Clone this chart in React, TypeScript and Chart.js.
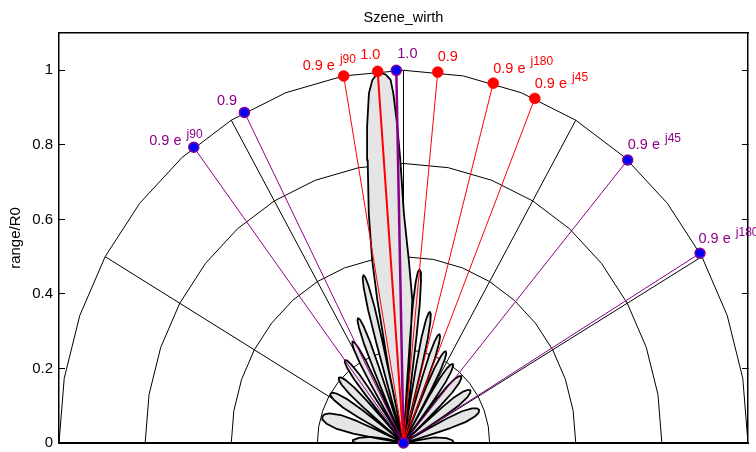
import React, { useEffect, useRef } from 'react';
import { Chart, registerables } from 'chart.js';

Chart.register(...registerables);

// ---------- data ----------
const titleText = 'Szene_wirth';
const yAxisTitle = 'range/R0';
const yTickValues = [0, 0.2, 0.4, 0.6, 0.8, 1];
const gridRadii = [0.25, 0.5, 0.75, 1];
const gridSpokeDeg = [-60, -30, 0, 30, 60];

// red steering markers (angle in degrees from boresight, range/R0)
const redDeg = [-10, -4.3, 5.7, 15.1, 22.4];
const redR = [1, 1, 1, 1, 1];
const redLabelBase = ['0.9 e', '1.0', '0.9', '0.9 e', '0.9 e'];
const redLabelSup = ['j90', '', '', 'j180', 'j45'];

// purple / blue markers
const purpleDeg = [-37.5, -27.5, -1.2, 40.6, 59.4];
const purpleR = [1, 1, 1, 1, 1];
const purpleLabelBase = ['0.9 e', '0.9', '1.0', '0.9 e', '0.9 e'];
const purpleLabelSup = ['j90', '', '', 'j45', 'j180'];

// range pattern, polar samples [deg, range/R0], lobes separated by the origin
const patternPolar: [number, number][] = [
  [-90, 0],
  [-89.8, 0.04], [-89.8, 0.09], [-89.8, 0.135], [-89, 0.148], [-87, 0.147], [-84, 0.13], [-80, 0.095], [-77, 0.05],
  [-80, 0],
  [-80.9, 0.074], [-80.14, 0.148], [-79, 0.197], [-76.98, 0.229], [-75.15, 0.242], [-73.3, 0.246], [-71.45, 0.242], [-69.62, 0.229], [-67.6, 0.197], [-66.46, 0.148], [-65.7, 0.074],
  [-63, 0],
  [-62.81, 0.075], [-62.32, 0.15], [-61.58, 0.2], [-60.27, 0.2325], [-59.1, 0.246], [-57.9, 0.25], [-56.7, 0.246], [-55.53, 0.2325], [-54.22, 0.2], [-53.48, 0.15], [-52.99, 0.075],
  [-52, 0],
  [-51.06, 0.077], [-50.64, 0.154], [-50.02, 0.206], [-48.91, 0.239], [-47.91, 0.253], [-46.9, 0.257], [-45.89, 0.253], [-44.89, 0.239], [-43.78, 0.206], [-43.16, 0.154], [-42.74, 0.077],
  [-42, 0],
  [-40.84, 0.084], [-40.5, 0.168], [-39.98, 0.224], [-39.06, 0.26], [-38.24, 0.276], [-37.4, 0.28], [-36.56, 0.276], [-35.74, 0.26], [-34.82, 0.224], [-34.3, 0.168], [-33.96, 0.084],
  [-33, 0],
  [-31.33, 0.093], [-31.04, 0.186], [-30.62, 0.248], [-29.87, 0.288], [-29.19, 0.305], [-28.5, 0.31], [-27.81, 0.305], [-27.13, 0.288], [-26.38, 0.248], [-25.96, 0.186], [-25.67, 0.093],
  [-25, 0],
  [-23.95, 0.108], [-23.7, 0.216], [-23.33, 0.288], [-22.68, 0.335], [-22.1, 0.355], [-21.5, 0.36], [-20.9, 0.355], [-20.32, 0.335], [-19.67, 0.288], [-19.3, 0.216], [-19.05, 0.108],
  [-18, 0],
  [-16.57, 0.14], [-16.36, 0.279], [-16.05, 0.372], [-15.5, 0.432], [-15, 0.458], [-14.5, 0.465], [-14, 0.458], [-13.5, 0.432], [-12.95, 0.372], [-12.64, 0.279], [-12.43, 0.14],
  [-12, 0],
  [-12.3, 0.2], [-11.2, 0.391], [-10.5, 0.499], [-9.3, 0.624], [-7.8, 0.766], [-7.1, 0.855], [-6.1, 0.944], [-5.3, 0.978], [-4.6, 0.99],
  [-3.8, 0.995], [-3, 0.99], [-2.2, 0.975], [-1.8, 0.938], [-1.2, 0.849], [-0.7, 0.759], [0.1, 0.616], [1.8, 0.491], [3.8, 0.385], [4.8, 0.2],
  [4, 0],
  [3.65, 0.14], [3.85, 0.281], [4.16, 0.374], [4.71, 0.435], [5.2, 0.461], [5.7, 0.468], [6.2, 0.461], [6.69, 0.435], [7.24, 0.374], [7.55, 0.281], [7.75, 0.14],
  [9, 0],
  [9.85, 0.108], [10.1, 0.216], [10.47, 0.288], [11.12, 0.335], [11.7, 0.355], [12.3, 0.36], [12.9, 0.355], [13.48, 0.335], [14.13, 0.288], [14.5, 0.216], [14.75, 0.108],
  [16, 0],
  [16.87, 0.093], [17.16, 0.186], [17.58, 0.248], [18.33, 0.288], [19.01, 0.305], [19.7, 0.31], [20.39, 0.305], [21.07, 0.288], [21.82, 0.248], [22.24, 0.186], [22.53, 0.093],
  [23, 0],
  [23.3, 0.083], [23.62, 0.165], [24.1, 0.22], [24.95, 0.256], [25.72, 0.271], [26.5, 0.275], [27.28, 0.271], [28.05, 0.256], [28.9, 0.22], [29.38, 0.165], [29.7, 0.083],
  [30, 0],
  [30.24, 0.077], [30.62, 0.153], [31.18, 0.204], [32.18, 0.237], [33.08, 0.251], [34, 0.255], [34.92, 0.251], [35.82, 0.237], [36.82, 0.204], [37.38, 0.153], [37.76, 0.077],
  [38, 0],
  [38.65, 0.074], [39.09, 0.147], [39.74, 0.196], [40.9, 0.228], [41.94, 0.241], [43, 0.245], [44.06, 0.241], [45.1, 0.228], [46.26, 0.196], [46.91, 0.147], [47.35, 0.074],
  [48, 0],
  [48.87, 0.072], [49.4, 0.144], [50.16, 0.192], [51.52, 0.223], [52.75, 0.236], [54, 0.24], [55.25, 0.236], [56.48, 0.223], [57.84, 0.192], [58.6, 0.144], [59.13, 0.072],
  [60, 0],
  [61.81, 0.071], [62.43, 0.142], [63.36, 0.19], [65.01, 0.22], [66.49, 0.233], [68, 0.237], [69.51, 0.233], [70.99, 0.22], [72.64, 0.19], [73.57, 0.142], [74.19, 0.071],
  [78, 0],
  [80, 0.045], [80.5, 0.09], [84, 0.125], [87, 0.142], [89, 0.145], [89.8, 0.14], [89.8, 0.09], [89.8, 0.04],
  [90, 0],
];

// ---------- styles ----------
const RED = '#ff0000';
const PURPLE = '#8b008b';
const BLUE = '#0000ff';
const FONT = '"Liberation Sans", Arial, Helvetica, sans-serif';
const redLineWidths = [1, 2, 1, 1, 1];
const purpleLineWidths = [1, 1, 2.5, 1, 1];
const redLabelOffsets: [number, number][] = [[-41, -5.5], [-17.5, -12.7], [0, -11.6], [0, -10.3], [0, -10.3]];
const purpleLabelOffsets: [number, number][] = [[-44.5, -1.8], [-27.5, -7.7], [1, -12.7], [0, -10.7], [-1.5, -10]];

const toXY = (deg: number, r: number) => {
  const a = (deg * Math.PI) / 180;
  return { x: r * Math.sin(a), y: r * Math.cos(a) };
};

const labelPlugin = {
  id: 'polarLabels',
  afterDatasetsDraw(chart: any) {
    const { ctx, chartArea } = chart;
    const xs = chart.scales.x;
    const ys = chart.scales.y;
    const draw = (deg: number, r: number, base: string, sup: string, off: [number, number], color: string) => {
      const p = toXY(deg, r);
      const px = xs.getPixelForValue(p.x);
      const py = ys.getPixelForValue(p.y);
      ctx.save();
      ctx.fillStyle = color;
      ctx.textAlign = 'left';
      ctx.textBaseline = 'alphabetic';
      ctx.font = `14.5px ${FONT}`;
      const bx = px + off[0];
      const by = py + off[1];
      ctx.fillText(base, bx, by);
      if (sup) {
        const w = ctx.measureText(base + ' ').width;
        ctx.font = `12px ${FONT}`;
        ctx.fillText(sup, bx + w + 1, by - 7.5);
      }
      ctx.restore();
    };
    redDeg.forEach((d, i) => draw(d, redR[i], redLabelBase[i], redLabelSup[i], redLabelOffsets[i], RED));
    purpleDeg.forEach((d, i) => draw(d, purpleR[i], purpleLabelBase[i], purpleLabelSup[i], purpleLabelOffsets[i], PURPLE));

    ctx.save();
    ctx.fillStyle = '#000';
    ctx.textAlign = 'center';
    ctx.textBaseline = 'alphabetic';
    ctx.font = `14.5px ${FONT}`;
    ctx.fillText(titleText, (chartArea.left + chartArea.right) / 2, 21.5);
    ctx.restore();
  },
};

export default function App() {
  const canvasRef = useRef<HTMLCanvasElement | null>(null);

  useEffect(() => {
    const canvas = canvasRef.current;
    if (!canvas) return;

    const datasets: any[] = [];

    // origin marker (top)
    datasets.push({
      data: [{ x: 0, y: 0 }],
      pointRadius: 5,
      pointBorderWidth: 1.5,
      pointBackgroundColor: BLUE,
      pointBorderColor: PURPLE,
      showLine: false,
      clip: false,
      order: 0,
    });

    // markers
    datasets.push({
      data: redDeg.map((d, i) => toXY(d, redR[i])),
      pointRadius: 5.5,
      pointBorderWidth: 0.5,
      pointBackgroundColor: RED,
      pointBorderColor: RED,
      showLine: false,
      order: 1,
    });
    datasets.push({
      data: purpleDeg.map((d, i) => toXY(d, purpleR[i])),
      pointRadius: 5,
      pointBorderWidth: 1.5,
      pointBackgroundColor: BLUE,
      pointBorderColor: PURPLE,
      showLine: false,
      order: 1,
    });

    // rays
    redDeg.forEach((d, i) => {
      datasets.push({
        data: [{ x: 0, y: 0 }, toXY(d, redR[i])],
        showLine: true,
        borderColor: RED,
        borderWidth: redLineWidths[i],
        pointRadius: 0,
        order: 2,
      });
    });
    purpleDeg.forEach((d, i) => {
      datasets.push({
        data: [{ x: 0, y: 0 }, toXY(d, purpleR[i])],
        showLine: true,
        borderColor: PURPLE,
        borderWidth: purpleLineWidths[i],
        pointRadius: 0,
        order: 2,
      });
    });

    // pattern
    datasets.push({
      data: patternPolar.map(([d, r]) => toXY(d, r)),
      showLine: true,
      borderColor: '#000',
      borderWidth: 1.8,
      backgroundColor: '#e5e5e5',
      fill: 'shape',
      pointRadius: 0,
      tension: 0,
      borderJoinStyle: 'round',
      order: 5,
    });

    // polar grid: circles and spokes
    gridRadii.forEach((r) => {
      const pts = [] as { x: number; y: number }[];
      for (let a = -90; a <= 90; a += 10) pts.push(toXY(a, r));
      datasets.push({
        data: pts,
        showLine: true,
        borderColor: '#000',
        borderWidth: 1,
        pointRadius: 0,
        order: 10,
      });
    });
    gridSpokeDeg.forEach((d) => {
      datasets.push({
        data: [{ x: 0, y: 0 }, toXY(d, 1)],
        showLine: true,
        borderColor: '#000',
        borderWidth: 1,
        pointRadius: 0,
        order: 10,
      });
    });

    const fixTicks = (s: any) => {
      s.ticks = yTickValues.map((v) => ({ value: v }));
    };

    const chart = new Chart(canvas, {
      type: 'scatter',
      data: { datasets },
      options: {
        responsive: false,
        animation: false,
        events: [],
        layout: { padding: { top: 33, left: 0, right: 0, bottom: 0 } },
        plugins: {
          legend: { display: false },
          tooltip: { enabled: false },
          title: { display: false },
        },
        scales: {
          x: {
            type: 'linear',
            min: -1,
            max: 1,
            position: 'bottom',
            ticks: { display: false },
            grid: { display: false },
            border: { display: true, color: '#000', width: 2 },
            afterFit: (s: any) => {
              s.height = 9;
              s.paddingLeft = 0;
              s.paddingRight = 0;
            },
          },
          xTop: {
            type: 'linear',
            min: -1,
            max: 1,
            position: 'top',
            ticks: { display: false },
            grid: { display: false },
            border: { display: true, color: '#000', width: 1.5 },
            afterFit: (s: any) => {
              s.height = 0;
              s.paddingLeft = 0;
              s.paddingRight = 0;
            },
          },
          y: {
            type: 'linear',
            min: 0,
            max: 1.1,
            position: 'left',
            afterBuildTicks: fixTicks,
            ticks: {
              color: '#000',
              font: { family: FONT, size: 15 },
              padding: 12,
              callback: (v: any) => String(v),
            },
            grid: { drawOnChartArea: false, drawTicks: true, tickLength: -6, color: '#000', tickWidth: 1 },
            border: { display: true, color: '#000', width: 1.5 },
            title: {
              display: true,
              text: yAxisTitle,
              color: '#000',
              font: { family: FONT, size: 15 },
              padding: { top: 7, bottom: 0 },
            },
            afterFit: (s: any) => {
              s.width = 59;
              s.paddingTop = 0;
              s.paddingBottom = 0;
            },
          },
          yRight: {
            type: 'linear',
            min: 0,
            max: 1.1,
            position: 'right',
            afterBuildTicks: fixTicks,
            ticks: { display: false },
            grid: { drawOnChartArea: false, drawTicks: true, tickLength: -6, color: '#000', tickWidth: 1 },
            border: { display: true, color: '#000', width: 1.5 },
            afterFit: (s: any) => {
              s.width = 8;
              s.paddingTop = 0;
              s.paddingBottom = 0;
            },
          },
        },
      } as any,
      plugins: [labelPlugin],
    });

    return () => {
      chart.destroy();
    };
  }, []);

  return (
    <div style={{ position: 'absolute', left: 0, top: 0, width: 756, height: 452, background: '#fff' }}>
      <canvas ref={canvasRef} width={756} height={452} style={{ display: 'block' }} />
    </div>
  );
}
